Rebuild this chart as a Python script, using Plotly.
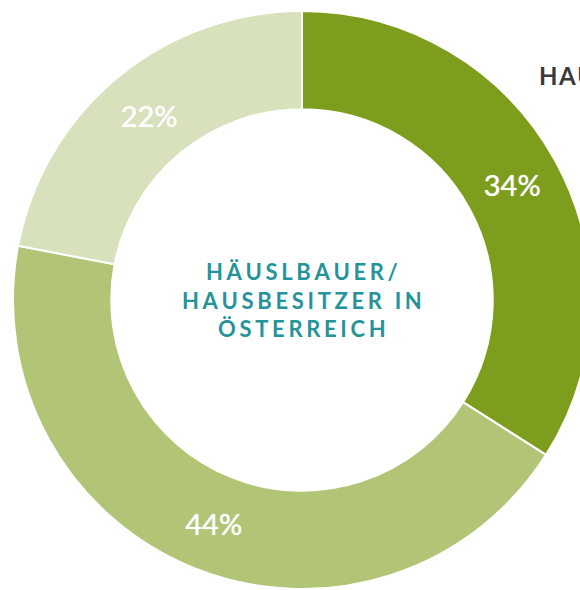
import plotly.graph_objects as go

labels = ["Gruppe A", "Gruppe B", "Gruppe C"]
values = [34, 44, 22]
colors = ["#7C9E1C", "#B2C476", "#D7E1BB"]

center_title = ["HÄUSLBAUER/", "HAUSBESITZER IN", "ÖSTERREICH"]
side_label = "HAUSBESITZER"


def spaced(s, gap="\u2006"):
    # no letter-spacing in plotly, so pad with narrow spaces
    return gap.join(s)


# the donut runs past the right edge of the window, so the figure is wider
W, H = 620, 590
cx, cy, r = 302, 300, 289

fig = go.Figure()

fig.add_trace(
    go.Pie(
        labels=labels,
        values=values,
        hole=0.66,
        sort=False,
        direction="clockwise",
        rotation=0,
        marker=dict(colors=colors, line=dict(color="#FFFFFF", width=2)),
        texttemplate="%{value}%",
        textposition="inside",
        insidetextorientation="horizontal",
        # a soft white shadow gives the semi-bold look of the original
        textfont=dict(
            family="Lato", size=29, color="#FFFFFF", shadow="0px 0px 1px #FFFFFF"
        ),
        hoverinfo="label+percent",
        showlegend=False,
        domain=dict(
            x=[(cx - r) / W, (cx + r) / W],
            y=[(H - cy - r) / H, (H - cy + r) / H],
        ),
    )
)

fig.add_annotation(
    x=cx / W,
    y=(H - cy) / H,
    xref="paper",
    yref="paper",
    text="<br>".join(spaced(t) for t in center_title),
    showarrow=False,
    font=dict(family="Lato", size=22, color="#25949A", weight="bold"),
    align="center",
)

fig.add_annotation(
    x=537 / W,
    y=(H - 76) / H,
    xref="paper",
    yref="paper",
    xanchor="left",
    yanchor="middle",
    text=spaced(side_label, "\u200a"),
    showarrow=False,
    font=dict(family="Lato", size=24, color="#3A3A3A", weight="bold"),
)

fig.update_layout(
    width=W,
    height=H,
    margin=dict(t=0, b=0, l=0, r=0),
    paper_bgcolor="#FFFFFF",
    plot_bgcolor="#FFFFFF",
)

# drop the default body margin and scrollbars of the page
fig.write_html(
    "out.html",
    config={"displayModeBar": False},
    post_script="document.body.style.margin='0';document.body.style.overflow='hidden';",
)
